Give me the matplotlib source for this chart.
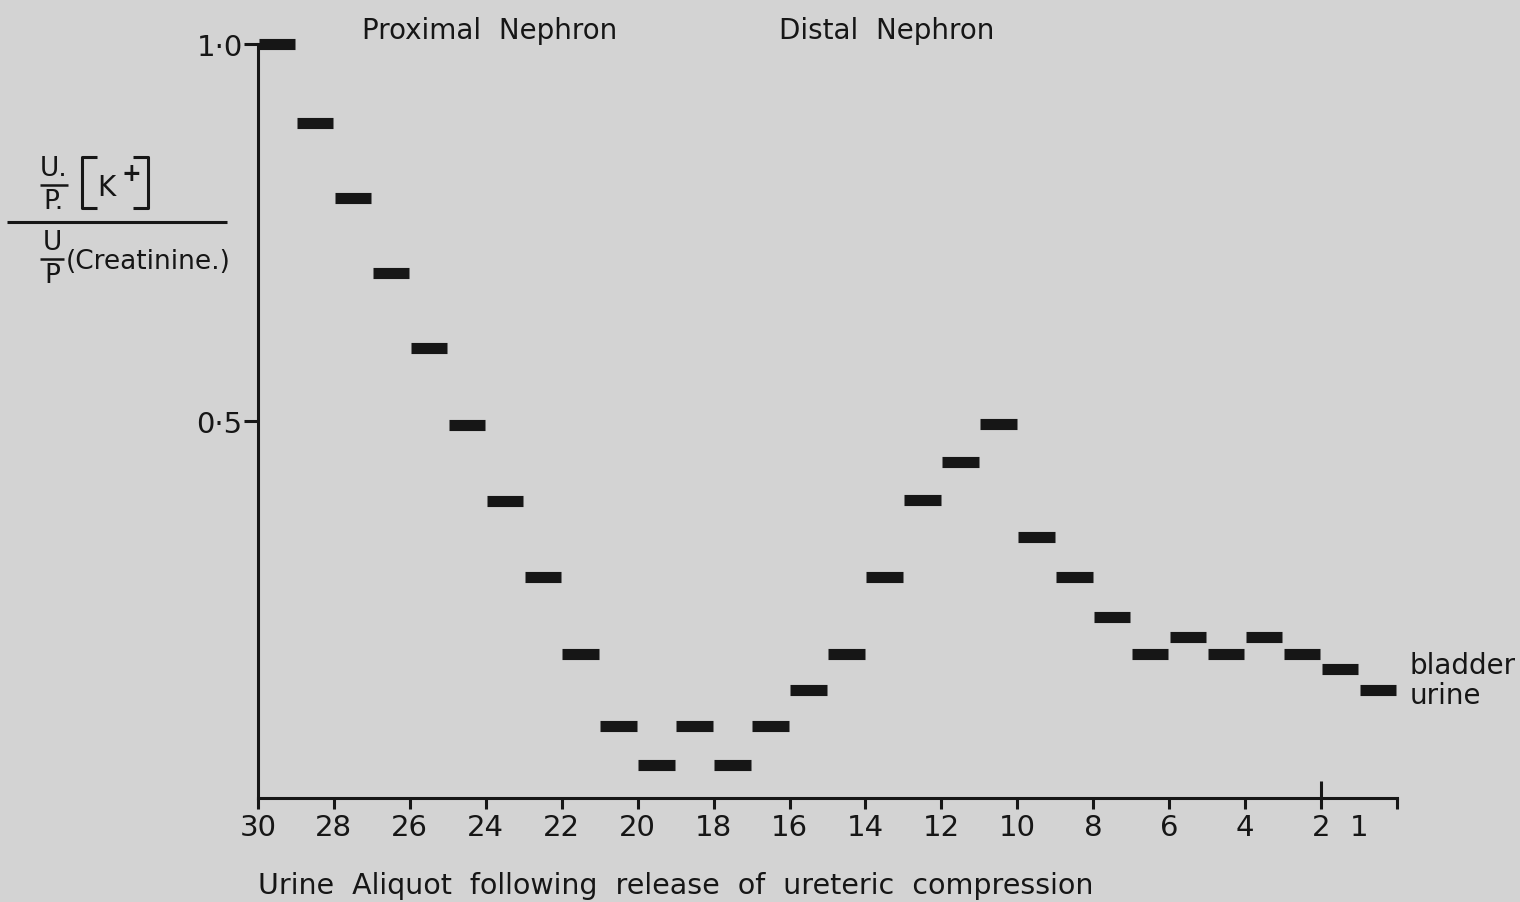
import matplotlib.pyplot as plt
from matplotlib.lines import Line2D

# aliquot number (bar spans n -> n-1) and U/P K+ over U/P creatinine
aliquot = list(range(30, 0, -1))
ratio = [1.00, 0.895, 0.796, 0.696, 0.597, 0.495, 0.394, 0.293, 0.191, 0.095,
         0.044, 0.095, 0.044, 0.095, 0.143, 0.191, 0.293, 0.395, 0.446, 0.496,
         0.346, 0.293, 0.240, 0.191, 0.214, 0.191, 0.214, 0.191, 0.171, 0.143]

xtick_pos = [30, 28, 26, 24, 22, 20, 18, 16, 14, 12, 10, 8, 6, 4, 2, 1, 0]
xtick_lab = ["30", "28", "26", "24", "22", "20", "18", "16", "14", "12",
             "10", "8", "6", "4", "2", "1", ""]
ytick_pos = [0.5, 1.0]
ytick_lab = ["0·5", "1·0"]

BG = "#d3d3d3"
INK = "#161616"
W, H = 1520, 903

def fx(px):
    return px / W

def fy(py):
    return 1 - py / H

fig = plt.figure(figsize=(15.2, 9.03), dpi=100, facecolor=BG)
ax = fig.add_axes([fx(258), fy(799), fx(1397) - fx(258), fy(45) - fy(799)])
ax.set_facecolor(BG)

ax.hlines(ratio, [a - 0.02 for a in aliquot], [a - 0.98 for a in aliquot],
          colors=INK, lw=8, capstyle="butt", zorder=3, clip_on=False)

ax.set_xlim(30, 0)
ax.set_ylim(0, 1.0)
for s in ["top", "right"]:
    ax.spines[s].set_visible(False)
for s in ["left", "bottom"]:
    ax.spines[s].set_linewidth(2.2)
    ax.spines[s].set_color(INK)

ax.set_xticks(xtick_pos)
ax.set_xticklabels(xtick_lab)
ax.set_yticks(ytick_pos)
ax.set_yticklabels(ytick_lab)
ax.tick_params(axis="x", direction="out", length=8, width=2.2, pad=3,
               labelsize=21, colors=INK)
ax.tick_params(axis="y", direction="out", length=10, width=2.2, pad=1,
               labelsize=21, colors=INK)
# no tick mark at aliquot 1
ax.xaxis.get_major_ticks()[xtick_pos.index(1)].tick1line.set_visible(False)
# tick at 2 also crosses upward
ax.xaxis.remove_overlapping_locs = False
ax.set_xticks([2], minor=True)
ax.tick_params(axis="x", which="minor", direction="in", length=12, width=2.2,
               colors=INK)

ax.text(27.26, 1.018, "Proximal  Nephron", fontsize=20, color=INK,
        ha="left", va="center", clip_on=False)
ax.text(16.29, 1.018, "Distal  Nephron", fontsize=20, color=INK,
        ha="left", va="center", clip_on=False)
ax.text(-0.34, 0.176, "bladder", fontsize=20, color=INK,
        ha="left", va="center", clip_on=False)
ax.text(-0.34, 0.137, "urine", fontsize=20, color=INK,
        ha="left", va="center", clip_on=False)

fig.text(fx(258), fy(886), "Urine  Aliquot  following  release  of  ureteric  compression",
         fontsize=20.5, color=INK, ha="left", va="center")

# y label built as a stacked fraction
def fline(xs, ys, lw=2.2):
    fig.add_artist(Line2D([fx(x) for x in xs], [fy(y) for y in ys],
                          transform=fig.transFigure, color=INK, lw=lw,
                          solid_capstyle="butt"))

fig.text(fx(54), fy(169), "U.", fontsize=19, color=INK, ha="center", va="center")
fline([40, 68], [186, 186], 1.8)
fig.text(fx(54), fy(202), "P.", fontsize=19, color=INK, ha="center", va="center")
fline([97, 82, 82, 97], [158, 158, 209, 209], 2.2)
fig.text(fx(106), fy(188), "K", fontsize=20, color=INK, ha="center", va="center")
fig.text(fx(131), fy(174), "+", fontsize=17, color=INK, ha="center", va="center",
         fontweight="bold")
fline([133, 148, 148, 133], [158, 158, 209, 209], 2.2)
fline([7, 227], [223, 223], 2.2)
fig.text(fx(52), fy(243), "U", fontsize=19, color=INK, ha="center", va="center")
fline([40, 64], [260, 260], 1.8)
fig.text(fx(52), fy(276), "P", fontsize=19, color=INK, ha="center", va="center")
fig.text(fx(66), fy(262), "(Creatinine.)", fontsize=19, color=INK,
         ha="left", va="center")

fig.savefig("out.png", dpi=100, facecolor=BG)
